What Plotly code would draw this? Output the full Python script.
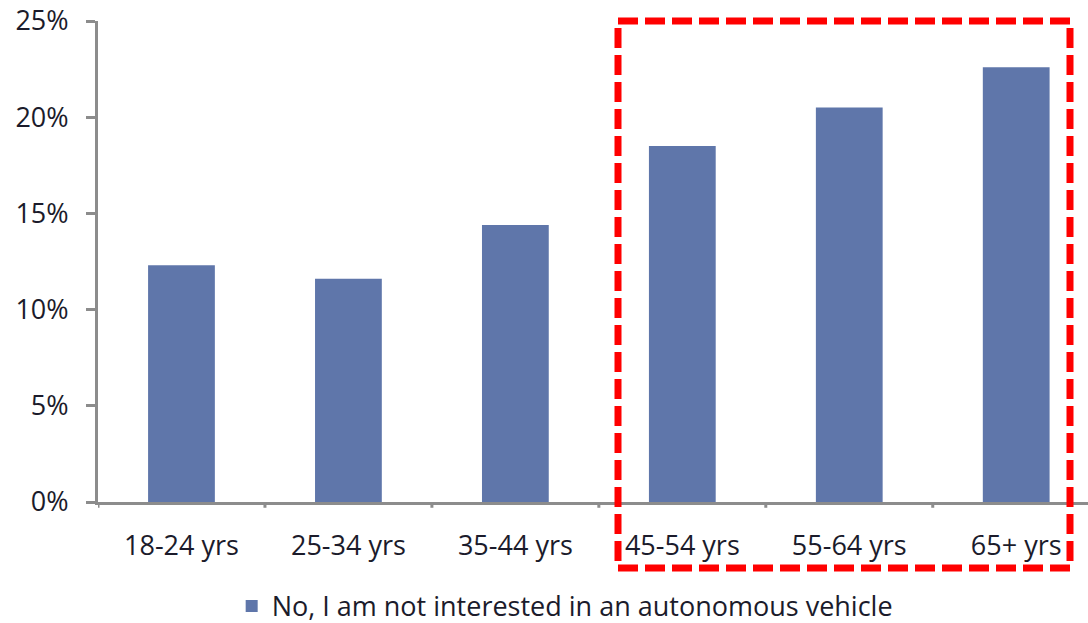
import plotly.graph_objects as go

# Share of respondents not interested in an autonomous vehicle, by age group
age_groups = ["18-24 yrs", "25-34 yrs", "35-44 yrs", "45-54 yrs", "55-64 yrs", "65+ yrs"]
not_interested_pct = [12.3, 11.6, 14.4, 18.5, 20.5, 22.6]
y_ticks = [0, 5, 10, 15, 20, 25]
series_name = "No, I am not interested in an autonomous vehicle"

BAR_COLOR = "#5f76aa"
AXIS_COLOR = "#8c8c8c"
TEXT_COLOR = "#1b1b2b"
FONT = "'Open Sans', sans-serif"
FS = 27

fig = go.Figure()
fig.add_trace(go.Bar(
    x=list(range(len(age_groups))),
    y=not_interested_pct,
    name=series_name,
    marker=dict(color=BAR_COLOR, line=dict(width=0)),
    width=0.4,
    showlegend=True,
))

fig.update_layout(
    width=1088,
    height=623,
    margin=dict(l=98, r=0, t=21, b=121, autoexpand=False),
    paper_bgcolor="white",
    plot_bgcolor="white",
    font=dict(family=FONT, size=FS, color=TEXT_COLOR),
    bargap=0.6,
    showlegend=True,
    legend=dict(
        orientation="h",
        xref="container", yref="container",
        x=0.519, xanchor="center",
        y=0.066, yanchor="top",
        font=dict(size=FS, color=TEXT_COLOR),
        itemwidth=30,
        bgcolor="rgba(0,0,0,0)",
    ),
    xaxis=dict(
        range=[-0.5, 5.43],
        tickmode="array",
        tickvals=list(range(len(age_groups))),
        ticktext=age_groups,
        showline=True, linecolor=AXIS_COLOR, linewidth=3,
        showgrid=False, zeroline=False,
        ticks="", ticklabelstandoff=18,
        tickfont=dict(size=FS, color=TEXT_COLOR),
    ),
    yaxis=dict(
        range=[0, 25],
        tickmode="array",
        tickvals=y_ticks,
        ticktext=[f"{v}%" for v in y_ticks],
        showline=True, linecolor=AXIS_COLOR, linewidth=3,
        showgrid=False, zeroline=False,
        ticks="outside", ticklen=9, tickwidth=3, tickcolor=AXIS_COLOR,
        ticklabelstandoff=12,
        tickfont=dict(size=FS, color=TEXT_COLOR),
    ),
)

# Category separator ticks below the x axis line
for b in [i + 0.5 for i in range(-1, len(age_groups))]:
    fig.add_shape(
        type="line", xref="x", yref="paper",
        x0=b, x1=b, y0=0, y1=-0.012,
        line=dict(color=AXIS_COLOR, width=3),
    )

# Red dashed highlight around the older age groups
fig.add_shape(
    type="rect", xref="paper", yref="paper",
    x0=(618 - 98) / 990, x1=(1070 - 98) / 990,
    y0=-(568 - 502) / 481, y1=(502 - 21) / 481,
    line=dict(color="#ff0000", width=7, dash="20px,7px"),
    fillcolor="rgba(0,0,0,0)",
    layer="above",
)

fig.write_html("out.html")
